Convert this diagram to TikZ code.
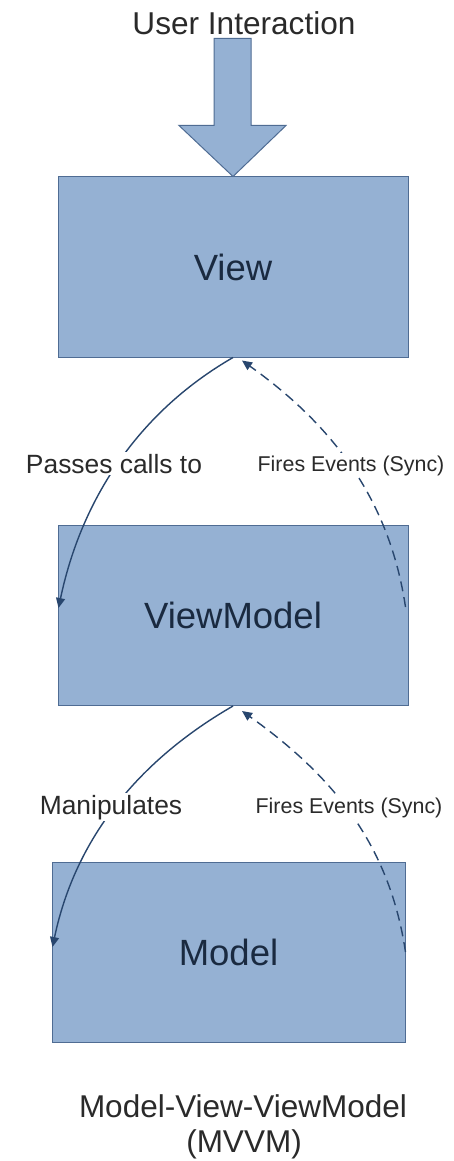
\documentclass[tikz,border=0pt]{standalone}
\usepackage{fontspec}
\setmainfont{Liberation Sans}
\usetikzlibrary{arrows.meta,calc}

\definecolor{boxfill}{HTML}{95B1D3}
\definecolor{boxline}{HTML}{4F6C93}
\definecolor{linkcol}{HTML}{28466E}
\definecolor{boxtext}{HTML}{1A2A40}
\definecolor{labtext}{HTML}{2A2A2A}

\tikzset{
  layer/.style={draw=boxline, line width=1pt, fill=boxfill, rectangle,
    minimum width=350pt, minimum height=180pt, inner sep=0pt,
    text=boxtext, font=\fontsize{36.5}{40}\selectfont},
  blockarrow/.style={draw=boxline, line width=1pt, fill=boxfill, line join=miter},
  calls/.style={draw=linkcol, line width=1.4pt, -{Triangle[length=10pt,width=9pt]}},
  events/.style={draw=linkcol, line width=1.4pt, dash pattern=on 10pt off 6pt,
    -{Triangle[length=10pt,width=9pt]}},
  biglab/.style={text=labtext, font=\fontsize{26.4}{30}\selectfont,
    fill=white, inner sep=2pt, anchor=base},
  smalllab/.style={text=labtext, font=\fontsize{21.4}{25}\selectfont,
    fill=white, inner sep=2pt, anchor=base},
  caption/.style={text=labtext, font=\fontsize{31.5}{36}\selectfont,
    inner sep=0pt, anchor=base}
}

\begin{document}
\begin{tikzpicture}[x=1pt,y=1pt]
  \useasboundingbox (0,0) rectangle (454,-1161);
  \fill[white] (0,0) rectangle (454,-1161);

  % the three layers
  \node[layer] (view)  at (233,-267)   {View};
  \node[layer] (vm)    at (233,-615.5) {ViewModel};
  \node[layer, minimum width=353pt] (model) at (228.5,-952) {Model};

  % user input entering the view
  \node[caption, font=\fontsize{31.6}{36}\selectfont] (ui) at (244,-35) {User Interaction};
  \draw[blockarrow] (view.north) -- ++(53,51) -- ++(-35,0) -- ++(0,87)
    -- ++(-37,0) -- ++(0,-87) -- ++(-35,0) -- cycle;

  % View -> ViewModel and back
  \draw[calls] (view.south) .. controls +(-95.3,-55) and +(22.7,108) ..
    ($(vm.west)+(1,7.5)$);
  \draw[events] ($(vm.east)+(-3,8.5)$) .. controls +(-16.3,108.8) and +(89.5,-63.9) ..
    ($(view.south)+(9,-3)$);

  % ViewModel -> Model and back
  \draw[calls] (vm.south) .. controls +(-95.3,-55) and +(22.7,108) ..
    ($(model.west)+(1,5)$);
  \draw[events] (model.east) .. controls +(-16.3,108.8) and +(89.5,-63.9) ..
    ($(vm.south)+(9,-5)$);

  % connector labels
  \node[biglab]   (passes) at (114,-473) {Passes calls to};
  \node[smalllab] (fires1) at (351,-471) {Fires Events (Sync)};
  \node[biglab]   (manip)  at (111,-814) {Manipulates};
  \node[smalllab] (fires2) at (349,-813) {Fires Events (Sync)};

  % caption
  \node[caption] (title1) at (243,-1117) {Model-View-ViewModel};
  \node[caption] (title2) at (244,-1152) {(MVVM)};
\end{tikzpicture}
\end{document}
